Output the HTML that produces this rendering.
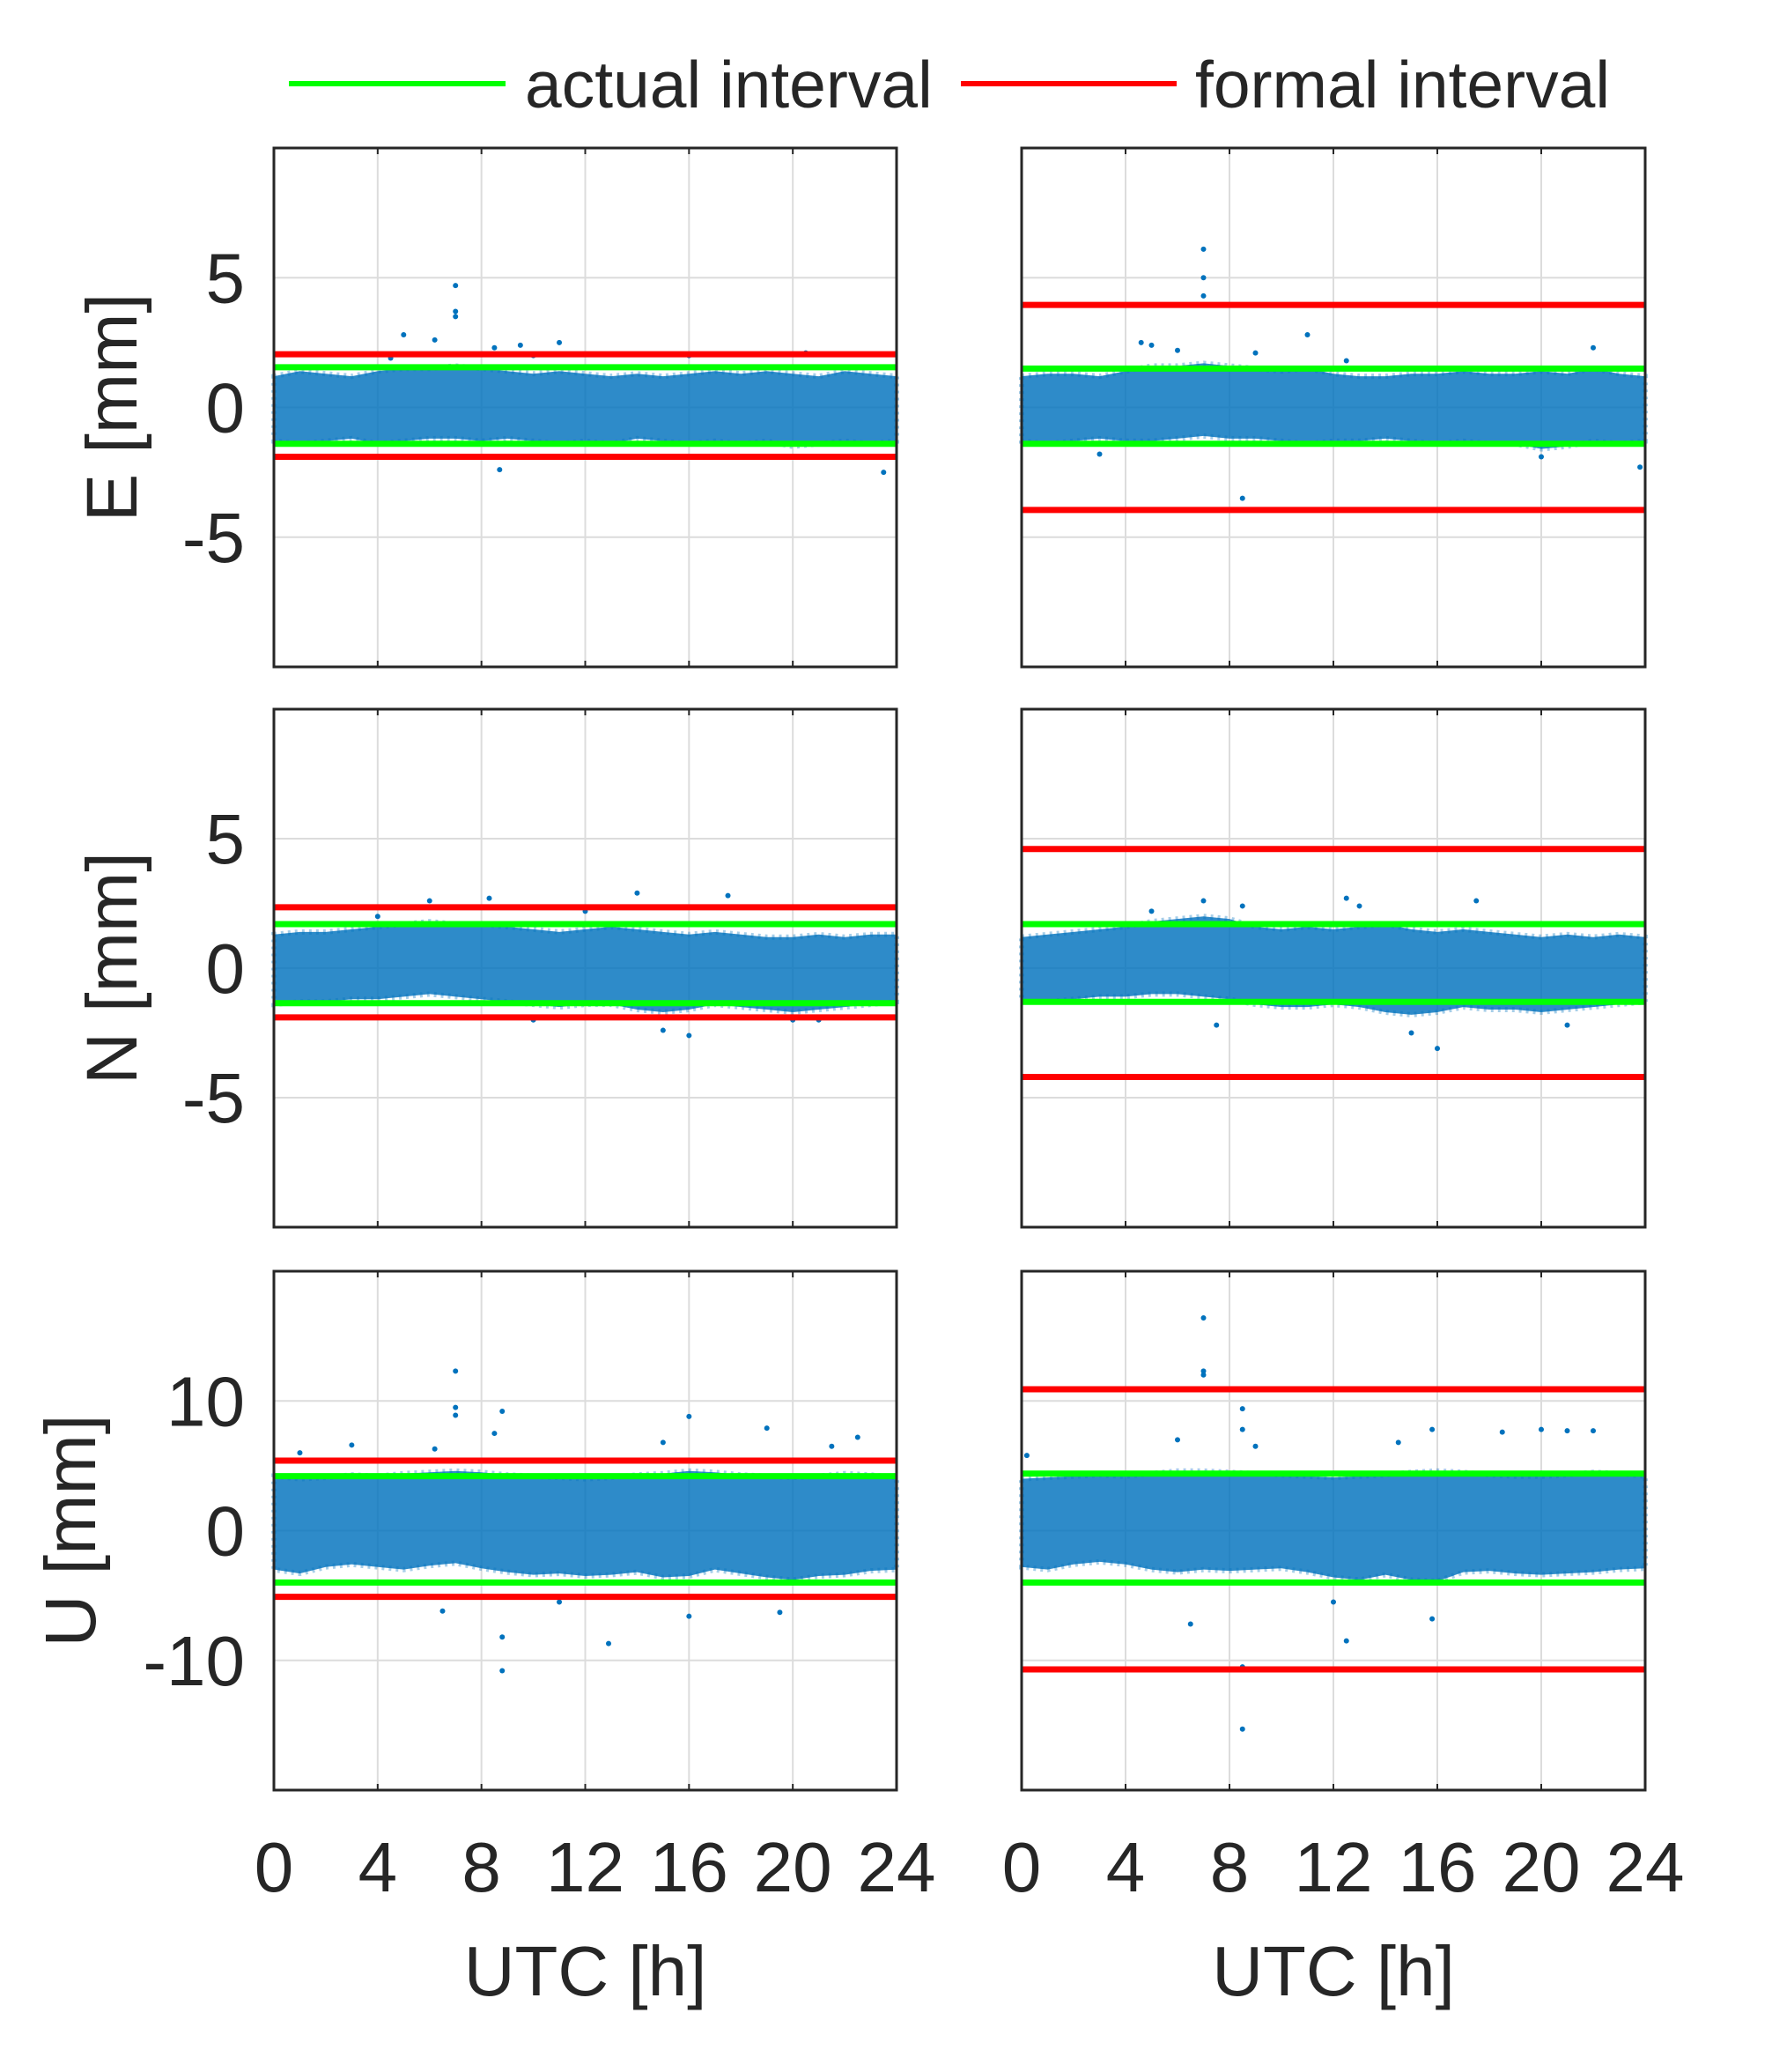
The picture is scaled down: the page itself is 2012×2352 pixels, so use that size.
<!DOCTYPE html>
<html><head><meta charset="utf-8"><style>
html,body{margin:0;padding:0;background:#fff}
svg{display:block}
text{font-family:"Liberation Sans",Arial,sans-serif;fill:#262626}
</style></head><body>
<svg id="fig" width="2012" height="2352" viewBox="0 0 2012 2352" xmlns="http://www.w3.org/2000/svg">
<g>
<line x1="328" y1="95" x2="574" y2="95" stroke="#00ff00" stroke-width="6"/>
<text x="596" y="122" font-size="75">actual interval</text>
<line x1="1091" y1="95" x2="1336" y2="95" stroke="#ff0000" stroke-width="6"/>
<text x="1357" y="122" font-size="75">formal interval</text>
</g>
</svg>
<script>
const xTicks=[0,4,8,12,16,20,24];
const hours=[0,1,2,3,4,5,6,7,8,9,10,11,12,13,14,15,16,17,18,19,20,21,22,23,24];
const yTicksEN=[-5,0,5];
const yTicksU=[-10,0,10];
const rowLabels=["E [mm]","N [mm]","U [mm]"];
const yLims=[10,10,20];
// interval values [green upper, green lower, red upper, red lower]
const intervalsLeft=[[1.55,-1.4,2.05,-1.9],[1.7,-1.35,2.35,-1.9],[4.2,-4.0,5.4,-5.1]];
const intervalsRight=[[1.5,-1.4,3.95,-3.95],[1.7,-1.3,4.6,-4.2],[4.4,-4.0,10.9,-10.7]];
// dense-cloud envelopes
const bandUpE_L=[1.2,1.4,1.3,1.2,1.4,1.5,1.5,1.6,1.5,1.4,1.3,1.4,1.3,1.2,1.3,1.2,1.3,1.4,1.3,1.4,1.3,1.2,1.4,1.3,1.2];
const bandLoE_L=[-1.3,-1.4,-1.3,-1.2,-1.4,-1.3,-1.2,-1.2,-1.3,-1.2,-1.3,-1.4,-1.3,-1.4,-1.2,-1.3,-1.4,-1.3,-1.4,-1.3,-1.5,-1.4,-1.3,-1.4,-1.3];
const bandUpE_R=[1.2,1.3,1.3,1.2,1.4,1.6,1.6,1.7,1.6,1.5,1.4,1.5,1.3,1.2,1.2,1.3,1.3,1.4,1.3,1.3,1.4,1.3,1.5,1.3,1.2];
const bandLoE_R=[-1.3,-1.4,-1.3,-1.2,-1.3,-1.3,-1.2,-1.1,-1.2,-1.2,-1.3,-1.4,-1.3,-1.3,-1.2,-1.3,-1.4,-1.3,-1.4,-1.4,-1.6,-1.5,-1.3,-1.4,-1.3];
const bandUpN_L=[1.3,1.4,1.4,1.5,1.6,1.7,1.8,1.7,1.7,1.6,1.5,1.4,1.5,1.6,1.5,1.4,1.3,1.4,1.3,1.2,1.2,1.3,1.2,1.3,1.3];
const bandLoN_L=[-1.4,-1.3,-1.3,-1.2,-1.2,-1.1,-1.0,-1.1,-1.2,-1.3,-1.4,-1.5,-1.4,-1.4,-1.6,-1.7,-1.6,-1.4,-1.5,-1.6,-1.7,-1.6,-1.5,-1.4,-1.3];
const bandUpN_R=[1.2,1.3,1.4,1.5,1.6,1.8,1.9,2.0,1.9,1.6,1.5,1.6,1.5,1.6,1.7,1.5,1.4,1.5,1.4,1.3,1.2,1.3,1.2,1.3,1.2];
const bandLoN_R=[-1.3,-1.3,-1.2,-1.1,-1.1,-1.0,-1.0,-1.1,-1.2,-1.4,-1.5,-1.5,-1.4,-1.5,-1.7,-1.8,-1.7,-1.5,-1.6,-1.6,-1.7,-1.6,-1.5,-1.4,-1.3];
const bandUpU_L=[4.2,4.0,4.1,4.3,4.2,4.4,4.5,4.6,4.5,4.3,4.2,4.1,4.0,4.1,4.3,4.4,4.6,4.5,4.3,4.2,4.1,4.2,4.4,4.3,4.1];
const bandLoU_L=[-3.0,-3.3,-2.8,-2.6,-2.8,-3.0,-2.7,-2.5,-2.9,-3.2,-3.4,-3.3,-3.5,-3.4,-3.2,-3.6,-3.5,-3.0,-3.3,-3.6,-3.8,-3.5,-3.4,-3.1,-3.0];
const bandUpU_R=[4.0,4.1,4.2,4.3,4.2,4.4,4.6,4.6,4.5,4.4,4.3,4.2,4.1,4.2,4.3,4.5,4.6,4.5,4.3,4.2,4.2,4.3,4.5,4.4,4.2];
const bandLoU_R=[-2.8,-3.0,-2.6,-2.4,-2.6,-3.0,-3.2,-3.0,-3.1,-3.0,-2.9,-3.2,-3.6,-3.8,-3.4,-3.8,-3.9,-3.2,-3.1,-3.3,-3.4,-3.3,-3.2,-3.0,-2.9];
// outlier points [hour, value]
const outE_L=[[7,4.7],[7,3.7],[7,3.5],[5,2.8],[6.2,2.6],[8.5,2.3],[9.5,2.4],[11,2.5],[8.7,-2.4],[13,-1.9],[23.5,-2.5],[20.5,2.1],[16,2.0],[4.5,1.9],[10,2.0],[18,-1.9]];
const outE_R=[[7,6.1],[7,5.0],[7,4.3],[8.5,-3.5],[5,2.4],[11,2.8],[22,2.3],[4.6,2.5],[12.5,1.8],[23.8,-2.3],[20,-1.9],[6,2.2],[9,2.1],[3,-1.8]];
const outN_L=[[6,2.6],[8.3,2.7],[14,2.9],[17.5,2.8],[16,-2.6],[15,-2.4],[10,-2.0],[20,-2.0],[4,2.0],[12,2.2],[21,-2.0]];
const outN_R=[[8.5,-4.2],[7,2.6],[8.5,2.4],[16,-3.1],[12.5,2.7],[17.5,2.6],[5,2.2],[7.5,-2.2],[13,2.4],[15,-2.5],[21,-2.2]];
const outU_L=[[7,12.3],[7,9.5],[7,8.9],[8.8,9.2],[8.8,-8.2],[8.8,-10.8],[12.9,-8.7],[16,8.8],[16,-6.6],[6.5,-6.2],[19,7.9],[19.5,-6.3],[22.5,7.2],[6.2,6.3],[3,6.6],[1,6],[8.5,7.5],[15,6.8],[21.5,6.5],[11,-5.5]];
const outU_R=[[7,16.4],[7,12.3],[7,12],[8.5,-15.3],[8.5,-10.5],[8.5,9.4],[8.5,7.8],[6.5,-7.2],[12.5,-8.5],[15.8,-6.8],[15.8,7.8],[18.5,7.6],[20,7.8],[21,7.7],[22,7.7],[6,7],[0.2,5.8],[12,-5.5],[14.5,6.8],[9,6.5]];

const NS="http://www.w3.org/2000/svg";
const svg=document.getElementById('fig');
function el(t,a,p){const e=document.createElementNS(NS,t);for(const k in a)e.setAttribute(k,a[k]);(p||svg).appendChild(e);return e;}
const colsX=[[311,1018],[1160,1868]];
const rowsY=[[168,757],[805,1393],[1443,2032]];
const bands=[[[bandUpE_L,bandLoE_L],[bandUpE_R,bandLoE_R]],[[bandUpN_L,bandLoN_L],[bandUpN_R,bandLoN_R]],[[bandUpU_L,bandLoU_L],[bandUpU_R,bandLoU_R]]];
const outs=[[outE_L,outE_R],[outN_L,outN_R],[outU_L,outU_R]];
const names=["east","north","up"];
for(let r=0;r<3;r++){
 const [y0,y1]=rowsY[r]; const lim=yLims[r];
 const yT=r==2?yTicksU:yTicksEN;
 for(let c=0;c<2;c++){
  const [x0,x1]=colsX[c];
  const xs=v=>x0+(v-0)/24*(x1-x0);
  const ys=v=>y0+(lim-v)/(2*lim)*(y1-y0);
  const g=el('g',{});
  
  
  el('rect',{x:x0,y:y0,width:x1-x0,height:y1-y0,fill:'#fff'},g);
  xTicks.forEach(t=>{const l=el('line',{x1:xs(t),x2:xs(t),y1:y0,y2:y1,stroke:'#dcdcdc','stroke-width':2},g);
   });
  yT.forEach(t=>{const l=el('line',{x1:x0,x2:x1,y1:ys(t),y2:ys(t),stroke:'#dcdcdc','stroke-width':2},g);
   });
  const up=bands[r][c][0],lo=bands[r][c][1];
  let d='M'+hours.map((h,i)=>xs(h)+','+ys(up[i])).join(' L');
  d+=' L'+hours.slice().reverse().map((h,k)=>xs(h)+','+ys(lo[hours.length-1-k])).join(' L')+' Z';
  const b=el('path',{d:d,fill:'#0072BD','fill-opacity':0.82,stroke:'#0072BD','stroke-width':6,'stroke-opacity':0.35,'stroke-dasharray':'3 5'},g);
  
  outs[r][c].forEach(p=>{const e=el('circle',{cx:xs(p[0]),cy:ys(p[1]),r:3,fill:'#0072BD'},g);
   });
  const iv=(c?intervalsRight:intervalsLeft)[r];
  [[iv[2],'#ff0000','formal-upper'],[iv[3],'#ff0000','formal-lower'],[iv[0],'#00ff00','actual-upper'],[iv[1],'#00ff00','actual-lower']].forEach(q=>{
   const l=el('line',{x1:x0,x2:x1,y1:ys(q[0]),y2:ys(q[0]),stroke:q[1],'stroke-width':7},g);
   });
  const fr=el('rect',{x:x0,y:y0,width:x1-x0,height:y1-y0,fill:'none',stroke:'#262626','stroke-width':3},g);
  
  xTicks.forEach(t=>{el('line',{x1:xs(t),x2:xs(t),y1:y1,y2:y1-7,stroke:'#262626','stroke-width':2},g);el('line',{x1:xs(t),x2:xs(t),y1:y0,y2:y0+7,stroke:'#262626','stroke-width':2},g);});
  if(c==0){yT.forEach(t=>{const tx=el('text',{x:x0-33,y:ys(t)+28,'font-size':80,'text-anchor':'end'},g);tx.textContent=String(t);
   });
   const yl=el('text',{x:0,y:0,'font-size':82,'text-anchor':'middle',transform:`translate(${r==2?108:155},${(y0+y1)/2}) rotate(-90)`},g);
   yl.textContent=rowLabels[r];
   }
  if(r==2){xTicks.forEach(t=>{const tx=el('text',{x:xs(t),y:2147,'font-size':80,'text-anchor':'middle'},g);tx.textContent=String(t);
    });
   const xl=el('text',{x:(x0+x1)/2,y:2265,'font-size':80,'text-anchor':'middle'},g);xl.textContent='UTC [h]';
   }
 }
}
</script>
</body></html>
